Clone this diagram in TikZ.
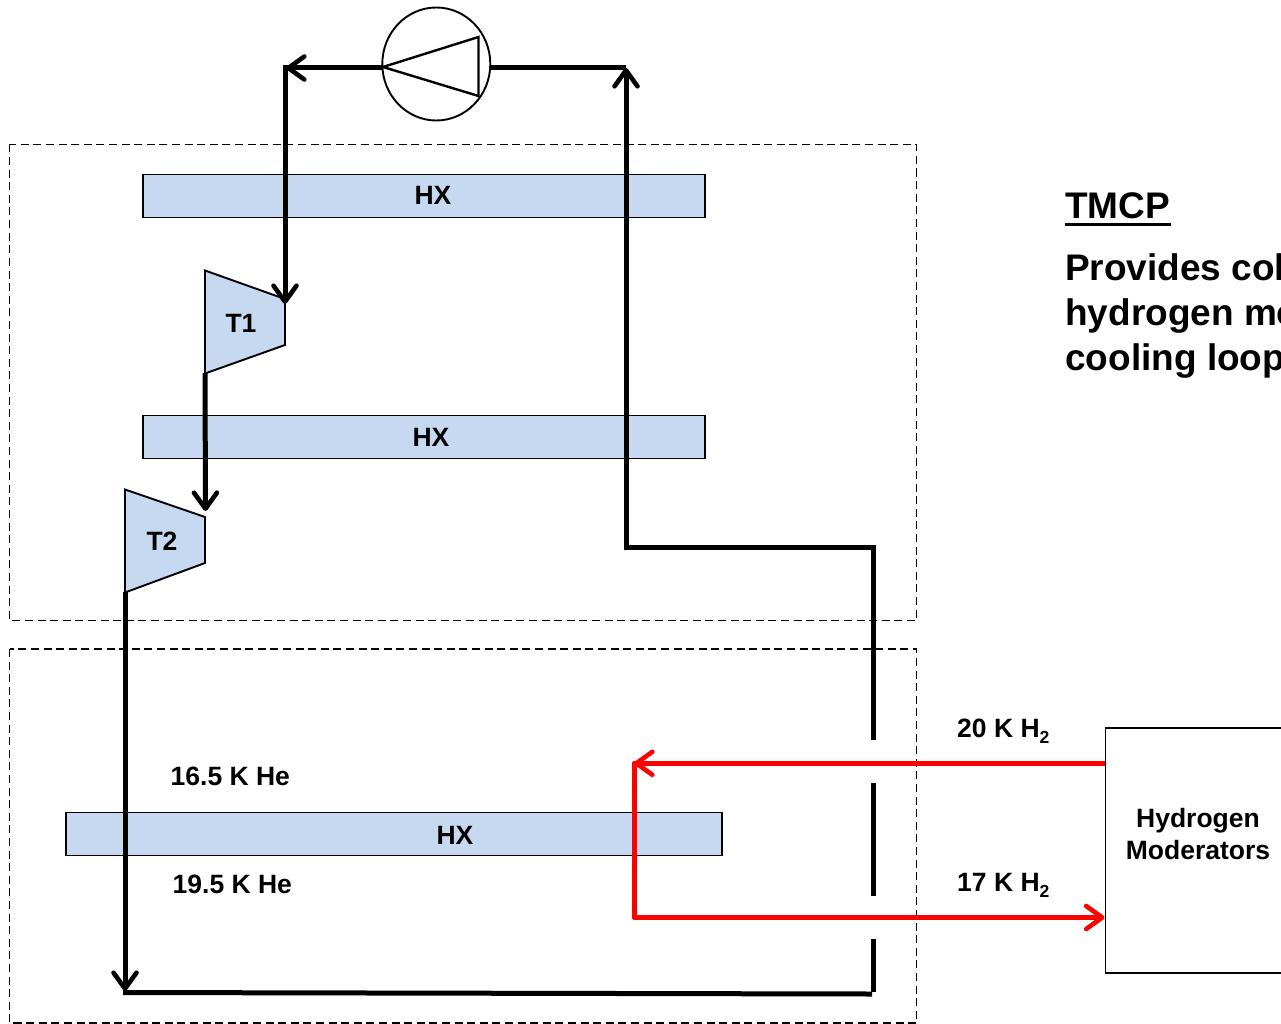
\documentclass[tikz,border=0pt]{standalone}
\usepackage{fontspec}
\setmainfont{Liberation Sans}
\usetikzlibrary{arrows.meta,shapes.geometric}
\definecolor{hxblue}{RGB}{198,217,240}
\newcommand{\subtwo}{\raisebox{-6pt}{\fontsize{17.5}{20}\selectfont 2}}
\tikzset{
  x=1pt,y=-1pt,
  hxbox/.style={draw=black,fill=hxblue,line width=1.9pt,inner sep=0pt,minimum height=43pt},
  turb/.style={draw=black,fill=hxblue,line width=1.9pt},
  zone/.style={draw=black,line width=1.9pt,dash pattern=on 8pt off 4.6pt},
  flow/.style={draw=black,line width=5pt},
  hot/.style={draw=red,line width=5pt},
  opentip/.style={-{Straight Barb[length=16pt,width=23pt,line width=4.6pt,round]}},
  lab/.style={font=\bfseries\fontsize{26.5}{31}\selectfont,inner sep=0pt,anchor=base},
  lbl/.style={font=\bfseries\fontsize{26.5}{31}\selectfont,inner sep=0pt,anchor=base west},
  big/.style={font=\bfseries\fontsize{37}{45}\selectfont,inner sep=0pt,anchor=base west},
}
\begin{document}
\begin{tikzpicture}
\useasboundingbox (0,0) rectangle (1281,1024);
\clip (0,0) rectangle (1281,1024);
\fill[white] (0,0) rectangle (1281,1024);
% zones
\draw[zone] (9.5,144.5) rectangle (916.5,620.5);
\draw[zone] (9.5,649) rectangle (916.5,1023);
% heat exchangers
\node[hxbox,minimum width=561.5pt] (hxa) at (424,196) {};
\node[hxbox,minimum width=561.5pt] (hxb) at (424,437) {};
\node[hxbox,minimum width=656pt] (hxc) at (394.3,834) {};
\node[lab] (hx1) at (433,205) {HX};
\node[lab] (hx2) at (431,446) {HX};
\node[lab] (hx3) at (455,844) {HX};
% turbines
\draw[turb] (205,270.5) -- (285,299) -- (285,345) -- (205,373.5) -- cycle;
\draw[turb] (125,489.5) -- (205,517) -- (205,563) -- (125,592.5) -- cycle;
\node[lab] (t1) at (241,332) {T1};
\node[lab] (t2) at (162,550) {T2};
% compressor
\node[draw=black,ellipse,line width=1.9pt,minimum width=108pt,minimum height=113pt,inner sep=0pt] (comp) at (436.3,64) {};
\draw[line width=2.4pt] (478.5,37) -- (478.5,96) -- (383,67) -- cycle;
% helium loop
\coordinate (a) at (383,68);
\coordinate (b) at (286,68);
\coordinate (b2) at (285,65.5);
\coordinate (c) at (285,304);
\coordinate (d) at (205,373);
\coordinate (e) at (205.5,511);
\coordinate (f) at (125,592);
\coordinate (g) at (125,991);
\coordinate (g2) at (123,992.5);
\coordinate (h) at (872,994);
\coordinate (i) at (873.7,939);
\coordinate (i2) at (873.7,992);
\coordinate (j) at (873.7,896);
\coordinate (k) at (873.7,783);
\coordinate (l) at (873.7,740);
\coordinate (m) at (873.7,547);
\coordinate (n) at (626,547);
\coordinate (o) at (626,68);
\coordinate (p) at (491,68);
\draw[flow,opentip] (a) -- (b);
\draw[flow,opentip] (b2) -- (c);
\draw[flow,opentip] (d) -- (e);
\draw[flow,opentip] (f) -- (g);
\draw[flow] (g2) -- (h);
\draw[flow] (i) -- (i2);
\draw[flow] (j) -- (k);
\draw[flow,line join=miter] (l) -- (m) -- (n) -- (626,300);
\draw[flow,opentip] (626,300) -- (o);
\draw[flow] (p) -- (o);
% hydrogen loop
\node[draw=black,line width=1.9pt,minimum width=200pt,minimum height=245pt,inner sep=0pt,anchor=north west] (mod) at (1104.5,727) {};
\coordinate (r1) at (1104.5,763.3);
\coordinate (r2) at (634,763.3);
\coordinate (r3) at (634,917.5);
\coordinate (r4) at (1104.5,917.5);
\draw[hot,opentip] (r1) -- (r2);
\draw[hot,line cap=round] (r2) -- (r3);
\draw[hot,opentip] (r3) -- (r4);
% labels
\node[lbl] (he1) at (170.5,785) {16.5 K He};
\node[lbl] (he2) at (172.5,893) {19.5 K He};
\node[lbl] (h21) at (957,737) {20 K H\subtwo};
\node[lbl] (h22) at (957,891) {17 K H\subtwo};
\node[lab] (mod1) at (1198,827) {Hydrogen};
\node[lab] (mod2) at (1198,859) {Moderators};
\node[big] (tm) at (1065,219) {TMCP};
\draw[line width=3pt] (1065,224.5) -- (1171,224.5);
\node[big] (p1) at (1065,280) {Provides col};
\node[big] (p2) at (1065,325.5) {hydrogen mo};
\node[big] (p3) at (1065,370) {cooling loop};
\end{tikzpicture}
\end{document}
